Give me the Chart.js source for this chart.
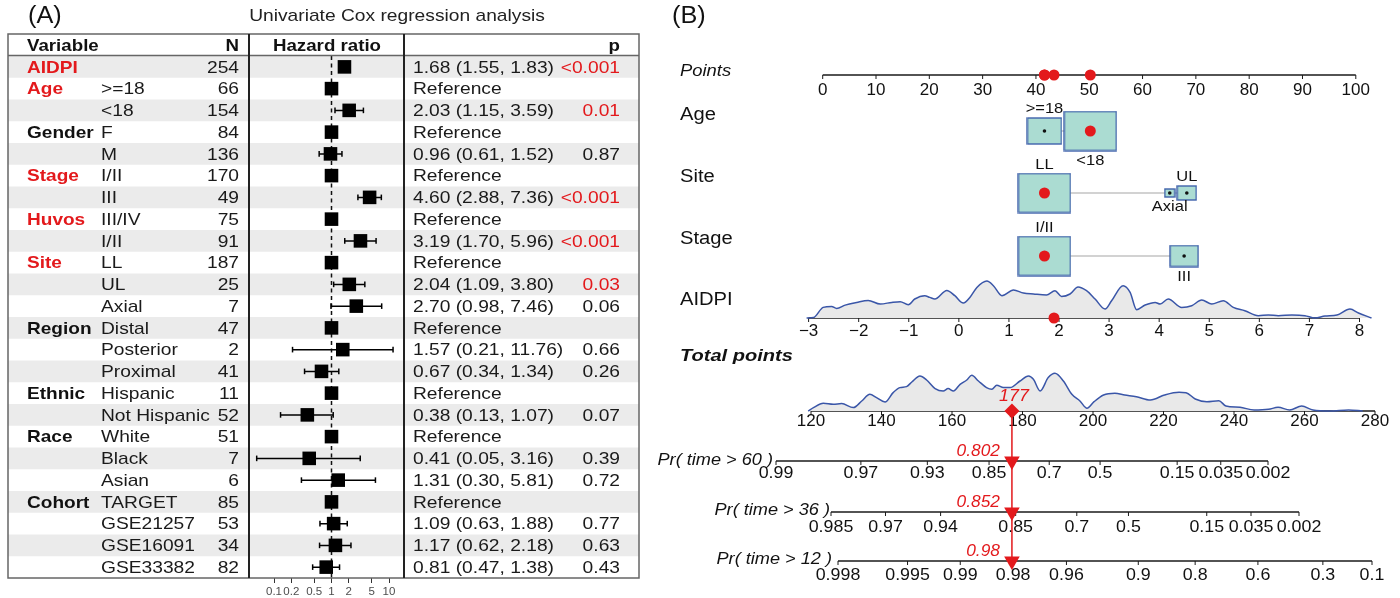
<!DOCTYPE html>
<html>
<head>
<meta charset="utf-8">
<title>Univariate Cox regression and nomogram</title>
<script src="https://cdn.jsdelivr.net/npm/chart.js@4.4.1/dist/chart.umd.min.js"></script>
<style>
  html, body { margin: 0; padding: 0; background: #fff; }
  #wrap { position: relative; width: 1400px; height: 598px; }
  #wrap canvas { position: absolute; left: 0; top: 0; }
</style>
</head>
<body>
<div id="wrap">
  <canvas id="forest" width="1400" height="598"></canvas>
  <canvas id="nomogram" width="1400" height="598"></canvas>
</div>
<script>
// --- (A) forest plot data ---
const groups = ['AIDPI', 'Age', '', 'Gender', '', 'Stage', '', 'Huvos', '', 'Site', '', '', 'Region', '', '', 'Ethnic', '', 'Race', '', '', 'Cohort', '', '', ''];
const levels = ['', '>=18', '<18', 'F', 'M', 'I/II', 'III', 'III/IV', 'I/II', 'LL', 'UL', 'Axial', 'Distal', 'Posterior', 'Proximal', 'Hispanic', 'Not Hispanic', 'White', 'Black', 'Asian', 'TARGET', 'GSE21257', 'GSE16091', 'GSE33382'];
const nVals = [254, 66, 154, 84, 136, 170, 49, 75, 91, 187, 25, 7, 47, 2, 41, 11, 52, 51, 7, 6, 85, 53, 34, 82];
const hr = [1.68, 1, 2.03, 1, 0.96, 1, 4.60, 1, 3.19, 1, 2.04, 2.70, 1, 1.57, 0.67, 1, 0.38, 1, 0.41, 1.31, 1, 1.09, 1.17, 0.81];
const hrLow = [1.55, null, 1.15, null, 0.61, null, 2.88, null, 1.70, null, 1.09, 0.98, null, 0.21, 0.34, null, 0.13, null, 0.05, 0.30, null, 0.63, 0.62, 0.47];
const hrHigh = [1.83, null, 3.59, null, 1.52, null, 7.36, null, 5.96, null, 3.80, 7.46, null, 11.76, 1.34, null, 1.07, null, 3.16, 5.81, null, 1.88, 2.18, 1.38];
const pVals = ['<0.001', '', '0.01', '', '0.87', '', '<0.001', '', '<0.001', '', '0.03', '0.06', '', '0.66', '0.26', '', '0.07', '', '0.39', '0.72', '', '0.77', '0.63', '0.43'];
const redGroups = ['AIDPI', 'Age', 'Stage', 'Huvos', 'Site'];
const hrTicks = [0.1, 0.2, 0.5, 1, 2, 5, 10];

// --- (B) nomogram data ---
const pointsTicks = [0, 10, 20, 30, 40, 50, 60, 70, 80, 90, 100];
const ageLevels = ['>=18', '<18'];
const agePoints = [41.6, 50.2];
const ageN = [66, 154];
const siteLevels = ['LL', 'Axial', 'UL'];
const sitePoints = [41.6, 65.1, 68.3];
const siteN = [187, 7, 25];
const stageLevels = ['I/II', 'III'];
const stagePoints = [41.6, 67.8];
const stageN = [170, 49];
const aidpiTicks = [-3, -2, -1, 0, 1, 2, 3, 4, 5, 6, 7, 8];
const aidpiDensX = [-3.04, -2.9, -2.71, -2.54, -2.44, -2.27, -2.04, -1.81, -1.57, -1.34, -1.17, -1.01, -0.88, -0.68, -0.58, -0.48, -0.24, -0.08, 0.09, 0.22, 0.36, 0.56, 0.69, 0.86, 1.09, 1.29, 1.49, 1.75, 1.92, 2.05, 2.22, 2.38, 2.55, 2.72, 2.92, 3.05, 3.28, 3.42, 3.55, 3.72, 3.92, 4.02, 4.18, 4.45, 4.65, 4.85, 5.05, 5.28, 5.48, 5.71, 5.98, 6.18, 6.38, 6.65, 6.91, 7.11, 7.31, 7.55, 7.81, 7.98, 8.24];
const aidpiDensY = [0, 0.5, 10.6, 11.6, 9.6, 12.9, 15.6, 17.6, 14, 15.6, 16.3, 13.3, 19, 22.3, 20.6, 19, 27.6, 22.3, 15, 20.6, 30.6, 37, 32.3, 22.3, 28, 25, 24, 23, 27.3, 21.6, 24, 31, 27.3, 19, 9, 17.3, 32.3, 25.6, 8.3, 13, 15.6, 14, 19, 10.6, 12.3, 18, 14, 17.3, 10.6, 7.3, 2.3, 3, 2.3, 3, 2.3, 0, 2, 3, 9, 5, 0];
const totalTicks = [120, 140, 160, 180, 200, 220, 240, 260, 280];
const totalDensX = [119.2, 120.7, 123.5, 126.3, 128.7, 132, 134.4, 136.7, 138.6, 141, 143.3, 145.2, 147.1, 148.6, 150.9, 152.8, 155.2, 157.5, 158.9, 160.4, 162.3, 164.2, 165.6, 167.5, 169.8, 171.3, 172.7, 174.6, 176.5, 179.3, 181.7, 183.1, 185, 187.3, 189.2, 191.6, 194, 196.3, 198.3, 200.3, 203, 206.2, 209, 212.3, 216.3, 220.3, 224.4, 226.4, 229, 232.3, 235.7, 237.7, 241.7, 245.7, 249.8, 252.5, 255.8, 259.2, 262.4, 267.2, 272.5, 276.5];
const totalDensY = [0, 3.4, 7.7, 6.7, 7.4, 3.4, 10, 16.7, 13.4, 9, 18.4, 23.4, 24.4, 29, 35, 31, 22.4, 20, 22.4, 20, 26.7, 31, 35.7, 30, 23.4, 21.7, 25.7, 23.4, 23.4, 30, 35, 31.7, 20, 33.4, 37.7, 30, 16.7, 10, 2.7, 9.3, 16, 17.7, 16, 14.3, 11, 16, 18.7, 18.3, 12, 9.3, 10.3, 5, 3.7, 1, 1.7, 3.7, 1, 5, 1, 0, 1, 0];
const pr60Ticks = [0.99, 0.97, 0.93, 0.85, 0.7, 0.5, 0.15, 0.035, 0.002];
const pr36Ticks = [0.985, 0.97, 0.94, 0.85, 0.7, 0.5, 0.15, 0.035, 0.002];
const pr12Ticks = [0.998, 0.995, 0.99, 0.98, 0.96, 0.9, 0.8, 0.6, 0.3, 0.1];

// the patient shown in red
const patAge = '<18';
const patSite = 'LL';
const patStage = 'I/II';
const patAidpi = 1.9;
const patTotal = 177;
const patPr = ['0.802', '0.852', '0.98'];

const RED = '#e3191c';
const FONT = '"Liberation Sans", Arial, Helvetica, sans-serif';
const W = 1400, H = 598;

// text with a small horizontal stretch, like the original figure
function txt(ctx, s, x, y, font, color, align, sx) {
  ctx.save();
  ctx.translate(x, y);
  ctx.scale(sx || 1, 1);
  ctx.font = font;
  ctx.fillStyle = color;
  ctx.textAlign = align || 'left';
  ctx.textBaseline = 'middle';
  ctx.fillText(s, 0, 0);
  ctx.restore();
}

// --- Forest plot start ---
const A = { left: 8, right: 639, top: 34, head: 55.5, col1: 249, col2: 404 };
const X = { group: 27, level: 101, n: 239, hr: 413, p: 620, hrHead: 327 };
const rowsN = levels.length;

function logFit(v1, p1, v2, p2, from, to) {
  const k = (Math.log10(v2) - Math.log10(v1)) / (p2 - p1);
  return {
    min: Math.pow(10, Math.log10(v1) + (from - p1) * k),
    max: Math.pow(10, Math.log10(v1) + (to - p1) * k)
  };
}
const hrRange = logFit(0.1, 274, 10, 389, A.col1, A.col2);

const ciData = [];
hr.forEach((v, i) => {
  if (hrLow[i] != null) {
    ciData.push({ x: hrLow[i], y: i }, { x: hrHigh[i], y: i }, { x: null, y: null });
  }
});

const forestTable = {
  id: 'forestTable',
  beforeDatasetsDraw(chart) {
    const ctx = chart.ctx, y = chart.scales.y;
    ctx.save();
    ctx.fillStyle = '#ebebeb';
    for (let i = 0; i < rowsN; i += 2) {
      const t = y.getPixelForValue(i - 0.5), b = y.getPixelForValue(i + 0.5);
      ctx.fillRect(A.left, t, A.right - A.left, b - t);
    }
    ctx.restore();
  },
  afterDatasetsDraw(chart) {
    const ctx = chart.ctx, y = chart.scales.y;
    const bottom = y.getPixelForValue(rowsN - 0.5);
    ctx.save();
    ctx.strokeStyle = '#666';
    ctx.lineWidth = 1.5;
    ctx.strokeRect(A.left, A.top, A.right - A.left, bottom - A.top);
    ctx.beginPath();
    ctx.moveTo(A.left, A.head);
    ctx.lineTo(A.right, A.head);
    ctx.stroke();
    ctx.strokeStyle = '#222';
    ctx.lineWidth = 2;
    [A.col1, A.col2].forEach(x => {
      ctx.beginPath();
      ctx.moveTo(x, A.top);
      ctx.lineTo(x, bottom);
      ctx.stroke();
    });
    ctx.restore();

    txt(ctx, '(A)', 28, 17, '23px ' + FONT, '#111', 'left', 1.1);
    txt(ctx, 'Univariate Cox regression analysis', 397, 16, '17px ' + FONT, '#222', 'center', 1.13);
    const hb = 'bold 17px ' + FONT;
    txt(ctx, 'Variable', X.group, 46, hb, '#111', 'left', 1.1);
    txt(ctx, 'N', X.n, 46, hb, '#111', 'right', 1.1);
    txt(ctx, 'Hazard ratio', X.hrHead, 46, hb, '#111', 'center', 1.1);
    txt(ctx, 'p', X.p, 46, hb, '#111', 'right', 1.1);

    const body = '17px ' + FONT;
    for (let i = 0; i < rowsN; i++) {
      const cy = y.getPixelForValue(i) + 1;
      if (groups[i]) {
        const c = redGroups.includes(groups[i]) ? RED : '#111';
        txt(ctx, groups[i], X.group, cy, hb, c, 'left', 1.12);
      }
      txt(ctx, levels[i], X.level, cy, body, '#1a1a1a', 'left', 1.13);
      txt(ctx, String(nVals[i]), X.n, cy, body, '#1a1a1a', 'right', 1.13);
      const s = hrLow[i] == null ? 'Reference'
        : hr[i].toFixed(2) + ' (' + hrLow[i].toFixed(2) + ', ' + hrHigh[i].toFixed(2) + ')';
      txt(ctx, s, X.hr, cy, body, '#1a1a1a', 'left', 1.13);
      if (pVals[i]) {
        const sig = parseFloat(pVals[i].replace('<', '')) < 0.05;
        txt(ctx, pVals[i], X.p, cy, body, sig ? RED : '#1a1a1a', 'right', 1.13);
      }
    }
  }
};

new Chart(document.getElementById('forest'), {
  type: 'scatter',
  data: {
    datasets: [{
      data: hr.map((v, i) => ({ x: v, y: i })),
      pointStyle: 'rect',
      pointRadius: 9.6,
      backgroundColor: '#000',
      borderWidth: 0,
      order: 1
    }, {
      type: 'line',
      data: ciData,
      borderColor: '#000',
      borderWidth: 1.5,
      pointStyle: 'line',
      rotation: 90,
      pointRadius: 2.8,
      pointBorderColor: '#000',
      pointBorderWidth: 1.5,
      spanGaps: false,
      order: 2
    }, {
      type: 'line',
      data: [{ x: 1, y: -0.5 }, { x: 1, y: rowsN - 0.5 }],
      borderColor: '#111',
      borderWidth: 1.5,
      borderDash: [4, 3.5],
      pointRadius: 0,
      order: 3
    }]
  },
  options: {
    responsive: false,
    animation: false,
    events: [],
    layout: { autoPadding: false, padding: { left: A.col1, right: W - A.col2, top: 56, bottom: 0 } },
    scales: {
      x: {
        type: 'logarithmic',
        min: hrRange.min,
        max: hrRange.max,
        afterBuildTicks: axis => { axis.ticks = hrTicks.map(v => ({ value: v })); },
        afterFit: axis => { axis.height = 20; },
        grid: { drawOnChartArea: false, tickLength: 5, tickColor: '#333' },
        border: { display: false },
        ticks: {
          autoSkip: false, maxRotation: 0, padding: 2, color: '#4d4d4d',
          font: { size: 11.5, family: FONT },
          callback: v => String(v)
        }
      },
      y: { type: 'linear', min: -0.5, max: rowsN - 0.5, reverse: true, display: false }
    },
    plugins: { legend: { display: false }, tooltip: { enabled: false } }
  },
  plugins: [forestTable]
});
// --- Forest plot end ---

// --- Nomogram start ---
const ROW = { points: 75, age: 131, site: 193, stage: 256, aidpi: 318, total: 411, pr60: 461, pr36: 512, pr12: 561 };
const lnln = s => Math.log(-Math.log(s));

function fit(v1, p1, v2, p2, from, to) {
  const k = (v2 - v1) / (p2 - p1);
  return { min: v1 + (from - p1) * k, max: v1 + (to - p1) * k };
}
const xs = (v1, p1, v2, p2) => Object.assign({ type: 'linear', axis: 'x', display: false, bounds: 'data' }, fit(v1, p1, v2, p2, 0, W));
const ys = (v1, p1, v2, p2) => Object.assign({ type: 'linear', axis: 'y', display: false, bounds: 'data' }, fit(v1, p1, v2, p2, H, 0));

const boxRows = [
  { levels: ageLevels, pts: agePoints, n: ageN, y: ROW.age, pick: patAge, place: ['above', 'below'] },
  { levels: siteLevels, pts: sitePoints, n: siteN, y: ROW.site, pick: patSite, place: ['above', 'below', 'above'] },
  { levels: stageLevels, pts: stagePoints, n: stageN, y: ROW.stage, pick: patStage, place: ['above', 'below'] }
];

function boxSize(n, nMax) {
  const f = Math.sqrt(n / nMax);
  return { w: Math.round(52 * f), h: Math.round(39 * f) };
}
function boxImage(n, nMax) {
  const b = boxSize(n, nMax);
  const c = document.createElement('canvas');
  c.width = b.w + 2;
  c.height = b.h + 2;
  const g = c.getContext('2d');
  g.fillStyle = '#abdcd2';
  g.fillRect(1, 1, b.w, b.h);
  g.strokeStyle = '#3f62ab';
  g.lineWidth = 1.4;
  g.strokeRect(1, 1, b.w, b.h);
  return c;
}

const boxData = [], boxImgs = [], redDots = [], smallDots = [], links = [];
boxRows.forEach(r => {
  const nMax = Math.max(...r.n);
  r.levels.forEach((lv, i) => {
    boxData.push({ x: r.pts[i], y: r.y });
    boxImgs.push(boxImage(r.n[i], nMax));
    if (lv === r.pick) redDots.push({ x: r.pts[i], y: r.y });
    else smallDots.push({ x: r.pts[i], y: r.y });
  });
  links.push({ x: Math.min(...r.pts), y: r.y }, { x: Math.max(...r.pts), y: r.y }, { x: null, y: null });
});
const pickedPoints = boxRows.map(r => ({ x: r.pts[r.levels.indexOf(r.pick)], y: ROW.points }));

function drawAxis(ctx, scale, values, labels, y, labelDy, sx) {
  const px = values.map(v => scale.getPixelForValue(v));
  ctx.save();
  ctx.strokeStyle = '#1a1a1a';
  ctx.lineWidth = 1.5;
  ctx.beginPath();
  ctx.moveTo(Math.min(...px), y);
  ctx.lineTo(Math.max(...px), y);
  ctx.stroke();
  ctx.lineWidth = 1;
  px.forEach(p => {
    ctx.beginPath();
    ctx.moveTo(p, y);
    ctx.lineTo(p, y + 4);
    ctx.stroke();
  });
  ctx.restore();
  px.forEach((p, i) => txt(ctx, labels[i], p, y + labelDy, '16.5px ' + FONT, '#111', 'center', sx));
}

const nomoAxes = {
  id: 'nomoAxes',
  beforeDatasetsDraw(chart) {
    const ctx = chart.ctx, s = chart.scales;
    drawAxis(ctx, s.xPts, pointsTicks, pointsTicks.map(String), ROW.points, 15, 1.03);
    drawAxis(ctx, s.xAid, aidpiTicks, aidpiTicks.map(v => v < 0 ? '\u2212' + (-v) : String(v)), ROW.aidpi, 13, 1.03);
    drawAxis(ctx, s.x, totalTicks, totalTicks.map(String), ROW.total, 10, 1.03);
    drawAxis(ctx, s.xP60, pr60Ticks.map(lnln), pr60Ticks.map(String), ROW.pr60, 12, 1.08);
    drawAxis(ctx, s.xP36, pr36Ticks.map(lnln), pr36Ticks.map(String), ROW.pr36, 15, 1.08);
    drawAxis(ctx, s.xP12, pr12Ticks.map(lnln), pr12Ticks.map(String), ROW.pr12, 14, 1.08);
  },
  afterDraw(chart) {
    const ctx = chart.ctx, s = chart.scales;
    txt(ctx, '(B)', 672, 17, '23px ' + FONT, '#111', 'left', 1.1);
    txt(ctx, 'Points', 680, 72, 'italic 16px ' + FONT, '#111', 'left', 1.15);
    txt(ctx, 'Age', 680, 115, '18px ' + FONT, '#111', 'left', 1.12);
    txt(ctx, 'Site', 680, 177, '18px ' + FONT, '#111', 'left', 1.12);
    txt(ctx, 'Stage', 680, 239, '18px ' + FONT, '#111', 'left', 1.12);
    txt(ctx, 'AIDPI', 680, 300, '18px ' + FONT, '#111', 'left', 1.12);
    txt(ctx, 'Total points', 680, 356, 'italic bold 17px ' + FONT, '#111', 'left', 1.18);
    txt(ctx, 'Pr( time > 60 )', 773, 460, 'italic 16.5px ' + FONT, '#111', 'right', 1.1);
    txt(ctx, 'Pr( time > 36 )', 830, 510, 'italic 16.5px ' + FONT, '#111', 'right', 1.1);
    txt(ctx, 'Pr( time > 12 )', 832, 559, 'italic 16.5px ' + FONT, '#111', 'right', 1.1);

    boxRows.forEach(r => {
      const nMax = Math.max(...r.n);
      r.levels.forEach((lv, i) => {
        const b = boxSize(r.n[i], nMax);
        const px = s.xPts.getPixelForValue(r.pts[i]);
        const py = r.place[i] === 'above' ? r.y - b.h / 2 - 9 : r.y + b.h / 2 + 10;
        txt(ctx, lv, px, py, '15px ' + FONT, '#111', 'center', 1.1);
      });
    });

    const tx = s.x.getPixelForValue(patTotal);
    txt(ctx, String(patTotal), tx + 2, 396, 'italic 17px ' + FONT, RED, 'center', 1.05);
    [ROW.pr60, ROW.pr36, ROW.pr12].forEach((ry, i) => {
      txt(ctx, patPr[i], tx - 12, ry - 10, 'italic 16.5px ' + FONT, RED, 'right', 1.05);
    });
  }
};

const densStyle = {
  type: 'line',
  fill: 'origin',
  backgroundColor: '#e9e9e9',
  borderColor: '#3a56a8',
  borderWidth: 1.5,
  pointRadius: 0,
  cubicInterpolationMode: 'monotone',
  order: 5
};

new Chart(document.getElementById('nomogram'), {
  type: 'scatter',
  data: {
    datasets: [{
      data: [{ x: patTotal, y: ROW.total }],
      pointStyle: 'rectRot', pointRadius: 7.5, backgroundColor: RED, borderWidth: 0, order: 0
    }, {
      data: [ROW.pr60, ROW.pr36, ROW.pr12].map(r => ({ x: patTotal, y: r })),
      pointStyle: 'triangle', rotation: 180, pointRadius: 9, backgroundColor: RED, borderWidth: 0, order: 0
    }, {
      type: 'line',
      data: [{ x: patTotal, y: ROW.total }, { x: patTotal, y: ROW.pr12 }],
      borderColor: RED, borderWidth: 1.5, pointRadius: 0, order: 1
    }, {
      xAxisID: 'xPts',
      data: pickedPoints.concat(redDots),
      pointRadius: 5.5, backgroundColor: RED, borderWidth: 0, order: 0
    }, {
      xAxisID: 'xAid',
      data: [{ x: patAidpi, y: ROW.points }, { x: patAidpi, y: ROW.aidpi }],
      pointRadius: 5.5, backgroundColor: RED, borderWidth: 0, order: 0
    }, {
      xAxisID: 'xPts',
      data: smallDots,
      pointRadius: 1.8, backgroundColor: '#111', borderWidth: 0, order: 0
    }, {
      xAxisID: 'xPts',
      data: boxData,
      pointStyle: ctx => boxImgs[ctx.dataIndex],
      pointRadius: 5, order: 2
    }, {
      type: 'line',
      xAxisID: 'xPts',
      data: links,
      borderColor: '#c4c4c4', borderWidth: 1.5, pointRadius: 0, spanGaps: false, order: 3
    }, Object.assign({}, densStyle, {
      xAxisID: 'xAid', yAxisID: 'yA',
      data: aidpiDensX.map((v, i) => ({ x: v, y: aidpiDensY[i] }))
    }), Object.assign({}, densStyle, {
      xAxisID: 'x', yAxisID: 'yT',
      data: totalDensX.map((v, i) => ({ x: v, y: totalDensY[i] }))
    })]
  },
  options: {
    responsive: false,
    animation: false,
    events: [],
    layout: { autoPadding: false, padding: 0 },
    scales: {
      x: xs(120, 811, 280, 1375),
      xPts: xs(0, 822.7, 100, 1355.8),
      xAid: xs(-3, 808.6, 8, 1359.5),
      xP60: xs(lnln(0.99), 776, lnln(0.002), 1268),
      xP36: xs(lnln(0.985), 831, lnln(0.002), 1299),
      xP12: xs(lnln(0.998), 838, lnln(0.1), 1372),
      y: { type: 'linear', axis: 'y', display: false, bounds: 'data', min: 0, max: H, reverse: true },
      yA: ys(0, ROW.aidpi, 10, ROW.aidpi - 10),
      yT: ys(0, ROW.total, 10, ROW.total - 10)
    },
    plugins: { legend: { display: false }, tooltip: { enabled: false } }
  },
  plugins: [nomoAxes]
});
// --- Nomogram end ---
</script>
</body>
</html>
